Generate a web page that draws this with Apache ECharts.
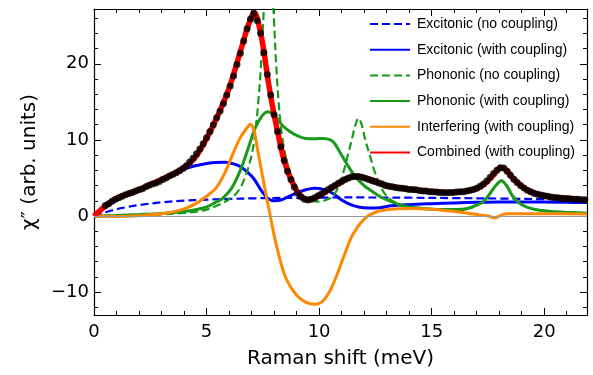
<!DOCTYPE html>
<html>
<head>
<meta charset="utf-8">
<script src="https://cdn.jsdelivr.net/npm/echarts@6/dist/echarts.min.js"></script>
<style>
  html, body { margin: 0; padding: 0; background: #fff; }
  #chart { width: 593px; height: 375px; }
</style>
</head>
<body>
<div id="chart"></div>
<script>
// Axis tick values
const xMajor = [0, 5, 10, 15, 20];
const xMinor = [1, 2, 3, 4, 6, 7, 8, 9, 11, 12, 13, 14, 16, 17, 18, 19, 21];
const yMajor = [-10, 0, 10, 20];
const yMinor = [-12, -8, -6, -4, -2, 2, 4, 6, 8, 12, 14, 16, 18, 22, 24, 26];

// Excitonic response without coupling
const exNoX = [0, 0.25, 0.5, 1, 1.5, 2, 3, 4, 5, 6, 7, 8, 9, 10, 11, 12, 13, 14, 16, 18, 20, 21.9];
const exNoY = [0, 0.25, 0.48, 0.9, 1.2, 1.45, 1.8, 2.03, 2.16, 2.25, 2.32, 2.37, 2.4, 2.42, 2.44, 2.44, 2.43, 2.41, 2.36, 2.3, 2.22, 2.15];

// Excitonic response with coupling
const exWX = [0, 0.5, 1, 1.5, 2, 2.5, 3, 3.5, 4, 4.5, 5, 5.4, 5.8, 6.2, 6.5, 6.8, 7.1, 7.4, 7.7, 8.0, 8.3, 8.6, 9.0, 9.4, 9.8, 10.2, 10.6, 11.0, 11.4, 11.8, 12.2, 12.7, 13.2, 14, 15, 16, 17, 18, 19, 20, 21, 21.9];
const exWY = [0, 1.1, 2.1, 2.8, 3.4, 4.1, 4.8, 5.55, 6.15, 6.6, 6.9, 7.05, 7.07, 6.85, 6.5, 5.8, 4.9, 3.5, 2.4, 2.0, 2.1, 2.5, 3.0, 3.45, 3.65, 3.5, 3.0, 2.1, 1.5, 1.15, 1.05, 1.1, 1.35, 1.5, 1.62, 1.72, 1.8, 1.85, 1.85, 1.83, 1.8, 1.78];

// Phononic response without coupling
const phNoX = [0, 1, 2, 3, 4, 4.5, 5, 5.4, 5.7, 6.0, 6.3, 6.5, 6.7, 6.85, 7.0, 7.1, 7.2, 7.3, 7.4, 7.5, 7.6, 7.68, 7.76, 7.84, 7.92, 8.0, 8.1, 8.2, 8.3, 8.4, 8.5, 8.65, 8.8, 9.0, 9.2, 9.4, 9.7, 10.0, 10.3, 10.6, 10.8, 11.0, 11.15, 11.3, 11.45, 11.6, 11.75, 11.9, 12.05, 12.25, 12.45, 12.65, 12.9, 13.2, 13.6, 14.0, 14.6, 15.3, 16.1, 16.7, 17.0, 17.3, 17.6, 17.85, 18.1, 18.35, 18.6, 18.9, 19.2, 19.6, 20.2, 20.9, 21.9];
const phNoY = [0, 0.05, 0.12, 0.22, 0.4, 0.55, 0.85, 1.3, 1.7, 2.2, 2.9, 3.7, 5.0, 6.3, 8.0, 9.6, 12.0, 15.0, 19.0, 24.5, 31, 37, 40, 37, 31, 25.5, 19.5, 15.0, 11.8, 9.6, 8.0, 6.3, 5.0, 3.7, 2.9, 2.4, 2.0, 1.9, 2.1, 2.6, 3.5, 5.0, 6.5, 8.3, 10.0, 11.8, 12.85, 11.9, 10.0, 8.0, 6.0, 4.4, 3.0, 2.1, 1.5, 1.2, 1.0, 0.85, 0.85, 1.0, 1.45, 1.9, 3.0, 4.0, 4.65, 3.9, 2.6, 1.7, 1.2, 0.85, 0.62, 0.5, 0.38];

// Phononic response with coupling
const phWX = [0, 1, 2, 3, 4, 4.5, 5, 5.4, 5.7, 6.1, 6.5, 6.85, 7.15, 7.45, 7.72, 8.0, 8.34, 8.7, 9.0, 9.4, 9.8, 10.2, 10.5, 10.7, 10.9, 11.2, 11.6, 12.0, 12.3, 12.8, 13.2, 13.6, 14.0, 14.6, 15.3, 16.1, 16.6, 17.0, 17.3, 17.6, 17.85, 18.1, 18.35, 18.6, 18.9, 19.2, 19.6, 20.2, 20.9, 21.9];
const phWY = [0, 0.08, 0.2, 0.35, 0.6, 0.82, 1.2, 1.8, 2.3, 3.6, 6.0, 8.9, 11.5, 13.1, 13.7, 13.3, 12.0, 11.1, 10.6, 10.2, 10.15, 10.2, 10.0, 9.5, 8.5, 7.0, 5.2, 4.0, 3.35, 2.4, 1.9, 1.45, 1.2, 1.0, 0.85, 0.85, 1.0, 1.45, 1.9, 3.0, 4.0, 4.65, 3.9, 2.6, 1.7, 1.2, 0.85, 0.62, 0.5, 0.38];

// Interference term with coupling
const inX = [0, 1, 2, 3, 3.5, 4, 4.5, 5, 5.4, 5.8, 6.2, 6.5, 6.8, 6.95, 7.1, 7.25, 7.45, 7.65, 7.82, 8.0, 8.27, 8.56, 9.0, 9.4, 9.8, 10.2, 10.6, 11.1, 11.5, 12.0, 12.5, 13.2, 14, 15, 16, 17, 17.5, 17.8, 18.0, 18.3, 19, 20, 21.9];
const inY = [0, -0.05, 0.05, 0.3, 0.55, 0.95, 1.6, 2.6, 3.6, 5.6, 8.4, 10.3, 11.6, 12.05, 11.3, 9.0, 5.8, 2.7, 0.2, -2.5, -5.8, -8.4, -10.4, -11.3, -11.6, -11.05, -9.1, -5.3, -2.4, -0.4, 0.5, 0.9, 1.0, 0.9, 0.6, 0.2, 0.0, -0.25, 0.0, 0.3, 0.3, 0.3, 0.28];

// Combined model with coupling
const coX = [0, 0.5, 1, 1.5, 2, 2.5, 3, 3.5, 4, 4.5, 5, 5.5, 6, 6.5, 6.8, 7.0, 7.12, 7.25, 7.5, 7.75, 8.0, 8.2, 8.4, 8.65, 8.85, 9.05, 9.25, 9.5, 9.75, 10.0, 10.3, 10.6, 10.9, 11.2, 11.5, 11.75, 12.0, 12.4, 12.8, 13.2, 13.8, 14.5, 15.2, 15.8, 16.3, 16.8, 17.2, 17.5, 17.8, 18.05, 18.3, 18.6, 19.0, 19.4, 19.8, 20.3, 21.0, 21.9];
const coY = [0, 1.3, 2.3, 2.9, 3.45, 4.1, 4.8, 5.5, 6.35, 7.7, 10.2, 13.2, 16.8, 21.6, 24.6, 26.2, 26.7, 26.0, 22.5, 17.5, 13.3, 10.5, 7.8, 5.5, 4.2, 3.1, 2.5, 2.15, 2.3, 2.7, 3.2, 3.8, 4.3, 4.85, 5.15, 5.2, 5.05, 4.7, 4.2, 3.85, 3.6, 3.35, 3.15, 3.1, 3.15, 3.4, 3.9, 4.6, 5.6, 6.35, 6.1, 5.0, 3.9, 3.2, 2.8, 2.5, 2.3, 2.1];

// Measured spectrum, sampled every 0.15 meV from 0.5 meV
const dotStart = 0.5;
const dotStep = 0.15;
const dotY = [
  1.40, 1.62, 1.95, 2.20, 2.40, 2.60, 2.80, 2.95, 3.10, 3.30,
  3.45, 3.60, 3.85, 4.05, 4.20, 4.35, 4.55, 4.80, 5.00, 5.25,
  5.45, 5.70, 5.95, 6.25, 6.60, 7.10, 7.60, 8.20, 8.80, 9.50,
  10.3, 11.1, 12.0, 12.9, 13.8, 14.8, 15.9, 17.1, 18.4, 19.9,
  21.4, 23.0, 24.6, 25.9, 26.6, 25.7, 24.0, 21.5, 18.6, 15.9,
  13.3, 11.1, 9.10, 7.30, 5.90, 4.80, 3.80, 3.00, 2.50, 2.20,
  2.10, 2.20, 2.40, 2.65, 2.90, 3.20, 3.50, 3.75, 4.00, 4.30,
  4.55, 4.80, 5.00, 5.15, 5.20, 5.20, 5.10, 4.95, 4.80, 4.65,
  4.50, 4.35, 4.20, 4.00, 3.90, 3.85, 3.75, 3.70, 3.65, 3.60,
  3.50, 3.50, 3.45, 3.35, 3.30, 3.30, 3.20, 3.20, 3.15, 3.10,
  3.10, 3.05, 3.10, 3.10, 3.15, 3.20, 3.20, 3.30, 3.40, 3.50,
  3.65, 3.90, 4.20, 4.60, 5.10, 5.60, 6.00, 6.35, 6.30, 5.90,
  5.35, 4.85, 4.40, 4.00, 3.70, 3.40, 3.20, 3.00, 2.85, 2.75,
  2.65, 2.60, 2.50, 2.45, 2.40, 2.35, 2.30, 2.30, 2.25, 2.20,
  2.20, 2.15, 2.15, 2.10
];

const legendNames = [
  'Excitonic (no coupling)',
  'Excitonic (with coupling)',
  'Phononic (no coupling)',
  'Phononic (with coupling)',
  'Interfering (with coupling)',
  'Combined (with coupling)'
];

const FONT = '"Liberation Sans", Arial, Helvetica, sans-serif';
const AXFONT = '"DejaVu Sans", "Liberation Sans", sans-serif';
const BLUE = '#0000ff';
const GREEN = '#1a9a1a';
const ORANGE = '#ff8800';
const RED = '#ff0000';

const pairs = (xs, ys) => xs.map((x, i) => [x, ys[i]]);
const dots = dotY.map((y, i) => [+(dotStart + i * dotStep).toFixed(2), y]);
const minus = v => String(v).replace('-', '\u2212');

function lineSeries(name, xs, ys, color, width, dashed) {
  return {
    name: name,
    type: 'line',
    data: pairs(xs, ys),
    showSymbol: false,
    symbol: 'none',
    smooth: 0.35,
    clip: true,
    lineStyle: { color: color, width: width, type: dashed ? [8, 4] : 'solid' },
    itemStyle: { color: color },
    emphasis: { disabled: true }
  };
}

const xRange = { min: 0, max: 21.9 };
const yRange = { min: -13, max: 27.2 };

const chart = echarts.init(document.getElementById('chart'), null, { renderer: 'canvas' });

const first = lineSeries(legendNames[0], exNoX, exNoY, BLUE, 2.2, true);
first.markLine = {
  silent: true,
  symbol: 'none',
  label: { show: false },
  lineStyle: { color: '#999999', width: 1, type: 'solid' },
  data: [{ yAxis: 0 }]
};

chart.setOption({
  animation: false,
  backgroundColor: '#ffffff',
  grid: { left: 94, right: 6, top: 9, bottom: 60 },
  legend: {
    orient: 'vertical',
    left: 369,
    top: 17,
    padding: 0,
    itemWidth: 40,
    itemHeight: 14,
    itemGap: 11.7,
    data: legendNames,
    selectedMode: false,
    itemStyle: { opacity: 0 },
    textStyle: { fontSize: 14, color: '#000', fontFamily: FONT, padding: [0, 0, 0, 2] }
  },
  xAxis: [
    Object.assign({
      type: 'value', position: 'bottom',
      name: 'Raman shift (meV)', nameLocation: 'middle', nameGap: 34,
      nameTextStyle: { fontSize: 20, color: '#000', fontFamily: AXFONT },
      axisLine: { show: true, onZero: false, lineStyle: { color: '#000', width: 1.2 } },
      axisTick: { show: true, inside: true, length: 7, customValues: xMajor, lineStyle: { color: '#000', width: 1 } },
      axisLabel: { show: true, customValues: xMajor, formatter: minus, fontSize: 18, color: '#000', fontFamily: AXFONT, margin: 8 },
      splitLine: { show: false }
    }, xRange),
    Object.assign({
      type: 'value', position: 'bottom',
      axisLine: { show: false, onZero: false },
      axisTick: { show: true, inside: true, length: 4, customValues: xMinor, lineStyle: { color: '#000', width: 1 } },
      axisLabel: { show: false }, splitLine: { show: false }
    }, xRange),
    Object.assign({
      type: 'value', position: 'top',
      axisLine: { show: true, onZero: false, lineStyle: { color: '#000', width: 1.2 } },
      axisTick: { show: true, inside: true, length: 7, customValues: xMajor, lineStyle: { color: '#000', width: 1 } },
      axisLabel: { show: false }, splitLine: { show: false }
    }, xRange),
    Object.assign({
      type: 'value', position: 'top',
      axisLine: { show: false, onZero: false },
      axisTick: { show: true, inside: true, length: 4, customValues: xMinor, lineStyle: { color: '#000', width: 1 } },
      axisLabel: { show: false }, splitLine: { show: false }
    }, xRange)
  ],
  yAxis: [
    Object.assign({
      type: 'value', position: 'left',
      name: 'χ\u2033 (arb. units)', nameLocation: 'middle', nameGap: 53,
      nameTextStyle: { fontSize: 20, color: '#000', fontFamily: AXFONT },
      axisLine: { show: true, onZero: false, lineStyle: { color: '#000', width: 1.2 } },
      axisTick: { show: true, inside: true, length: 7, customValues: yMajor, lineStyle: { color: '#000', width: 1 } },
      axisLabel: { show: true, customValues: yMajor, formatter: minus, fontSize: 18, color: '#000', fontFamily: AXFONT, margin: 5 },
      splitLine: { show: false }
    }, yRange),
    Object.assign({
      type: 'value', position: 'left',
      axisLine: { show: false, onZero: false },
      axisTick: { show: true, inside: true, length: 4, customValues: yMinor, lineStyle: { color: '#000', width: 1 } },
      axisLabel: { show: false }, splitLine: { show: false }
    }, yRange),
    Object.assign({
      type: 'value', position: 'right',
      axisLine: { show: true, onZero: false, lineStyle: { color: '#000', width: 1.2 } },
      axisTick: { show: true, inside: true, length: 7, customValues: yMajor, lineStyle: { color: '#000', width: 1 } },
      axisLabel: { show: false }, splitLine: { show: false }
    }, yRange),
    Object.assign({
      type: 'value', position: 'right',
      axisLine: { show: false, onZero: false },
      axisTick: { show: true, inside: true, length: 4, customValues: yMinor, lineStyle: { color: '#000', width: 1 } },
      axisLabel: { show: false }, splitLine: { show: false }
    }, yRange)
  ],
  series: [
    first,
    lineSeries(legendNames[1], exWX, exWY, BLUE, 3, false),
    lineSeries(legendNames[2], phNoX, phNoY, GREEN, 2.2, true),
    lineSeries(legendNames[3], phWX, phWY, GREEN, 3, false),
    lineSeries(legendNames[4], inX, inY, ORANGE, 3, false),
    lineSeries(legendNames[5], coX, coY, RED, 5.5, false),
    {
      name: 'data',
      type: 'scatter',
      data: dots,
      symbol: 'circle',
      symbolSize: 7,
      clip: true,
      itemStyle: { color: '#000' },
      emphasis: { disabled: true },
      z: 5
    }
  ]
});
</script>
</body>
</html>
